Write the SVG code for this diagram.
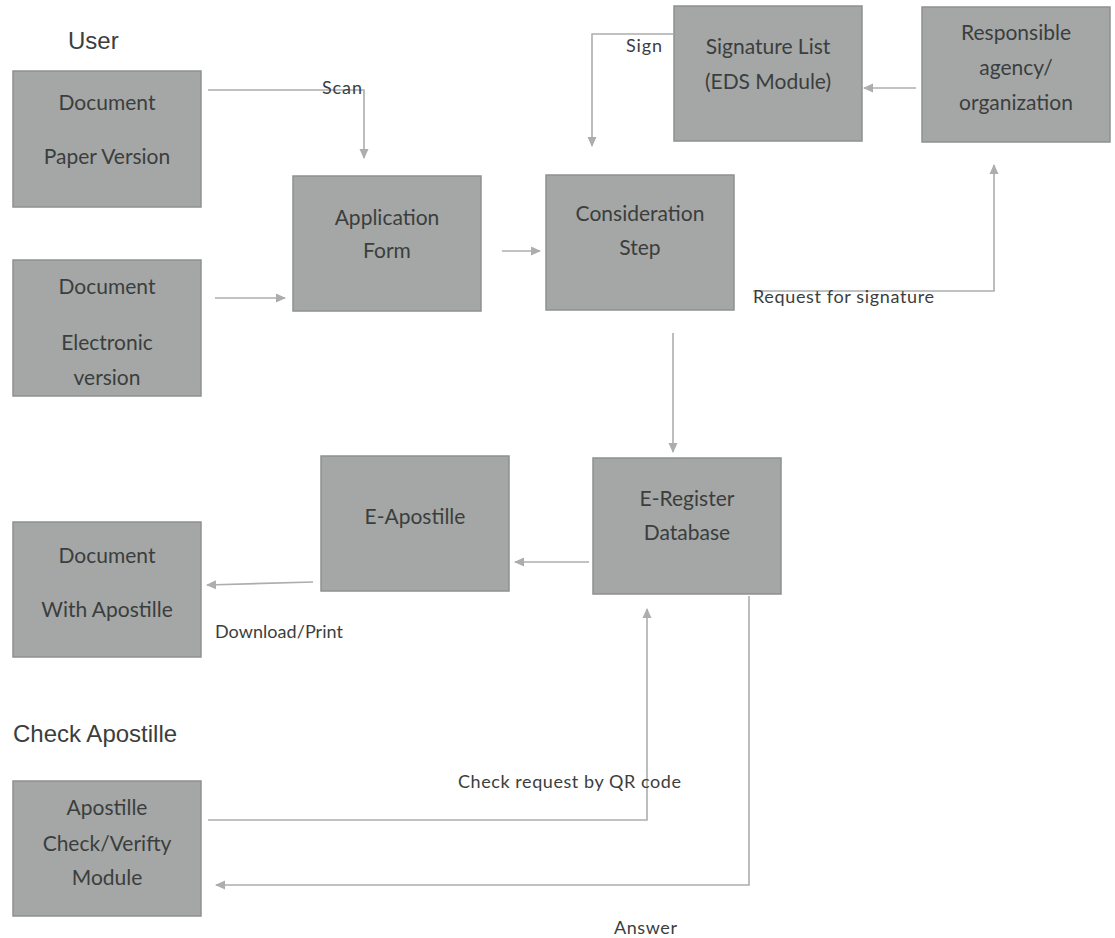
<svg xmlns="http://www.w3.org/2000/svg" width="1115" height="938" viewBox="0 0 1115 938">
<style>
.box{fill:#a4a7a6;stroke:#8e9190;stroke-width:1.5}
.nt{font-family:Lato,"Open Sans",sans-serif;font-size:21px;fill:#3b3e3d;text-anchor:middle;dominant-baseline:central}
.lbl{font-family:Lato,"Liberation Sans",sans-serif;font-size:18px;fill:#3b3e3d}
.hdr{font-family:"Liberation Sans",Arial,sans-serif;font-size:24px;fill:#3b3e3d}
.con{fill:none;stroke:#acaeae;stroke-width:1.6}
</style>
<defs>
<marker id="ah" markerWidth="10" markerHeight="10" refX="9" refY="5" orient="auto" markerUnits="userSpaceOnUse">
<path d="M0,0.5 L10,5 L0,9.5 Z" fill="#acaeae"/>
</marker>
</defs>
<rect width="1115" height="938" fill="#ffffff"/>
<text class="hdr" x="68" y="49">User</text>
<text class="hdr" x="13" y="742">Check Apostille</text>

<g id="doc-paper"><rect class="box" x="13" y="71" width="188" height="136"/>
<text class="nt" x="107" y="101">Document</text><text class="nt" x="107" y="155">Paper Version</text></g>
<g id="doc-electronic"><rect class="box" x="13" y="260" width="188" height="136"/>
<text class="nt" x="107" y="285">Document</text><text class="nt" x="107" y="341">Electronic</text><text class="nt" x="107" y="376">version</text></g>
<g id="application-form"><rect class="box" x="293" y="176" width="188" height="135"/>
<text class="nt" x="387" y="216">Application</text><text class="nt" x="387" y="249">Form</text></g>
<g id="consideration-step"><rect class="box" x="546" y="175" width="188" height="135"/>
<text class="nt" x="640" y="212">Consideration</text><text class="nt" x="640" y="246">Step</text></g>
<g id="signature-list"><rect class="box" x="674" y="6" width="188" height="135"/>
<text class="nt" x="768" y="45">Signature List</text><text class="nt" x="768" y="80">(EDS Module)</text></g>
<g id="responsible-agency"><rect class="box" x="922" y="7" width="188" height="135"/>
<text class="nt" x="1016" y="31">Responsible</text><text class="nt" x="1016" y="66">agency/</text><text class="nt" x="1016" y="101">organization</text></g>
<g id="e-apostille"><rect class="box" x="321" y="456" width="188" height="135"/>
<text class="nt" x="415" y="515">E-Apostille</text></g>
<g id="e-register"><rect class="box" x="593" y="458" width="188" height="136"/>
<text class="nt" x="687" y="497">E-Register</text><text class="nt" x="687" y="531">Database</text></g>
<g id="doc-with-apostille"><rect class="box" x="13" y="522" width="188" height="135"/>
<text class="nt" x="107" y="554">Document</text><text class="nt" x="107" y="608">With Apostille</text></g>
<g id="apostille-check"><rect class="box" x="13" y="781" width="188" height="135"/>
<text class="nt" x="107" y="806">Apostille</text><text class="nt" x="107" y="842">Check/Verifty</text><text class="nt" x="107" y="876">Module</text></g>

<g id="connectors">
<path class="con" d="M208,90 H364 V158" marker-end="url(#ah)"/>
<path class="con" d="M215,298 H285" marker-end="url(#ah)"/>
<path class="con" d="M502,251 H540" marker-end="url(#ah)"/>
<path class="con" d="M674,34 H592 V146" marker-end="url(#ah)"/>
<path class="con" d="M916,88 H864" marker-end="url(#ah)"/>
<path class="con" d="M753,291 H994 V165" marker-end="url(#ah)"/>
<path class="con" d="M673,333 V452" marker-end="url(#ah)"/>
<path class="con" d="M589,562 H515" marker-end="url(#ah)"/>
<path class="con" d="M313,582 L207,585" marker-end="url(#ah)"/>
<path class="con" d="M208,820 H647 V609" marker-end="url(#ah)"/>
<path class="con" d="M749,596 V885 H216" marker-end="url(#ah)"/>
<text class="lbl" x="322" y="94" textLength="40">Scan</text>
<text class="lbl" x="626" y="52" textLength="36">Sign</text>
<text class="lbl" x="753" y="303" textLength="181">Request for signature</text>
<text class="lbl" x="215" y="638" textLength="128">Download/Print</text>
<text class="lbl" x="458" y="788" textLength="223">Check request by QR code</text>
<text class="lbl" x="614" y="934" textLength="63">Answer</text>
</g>
</svg>
